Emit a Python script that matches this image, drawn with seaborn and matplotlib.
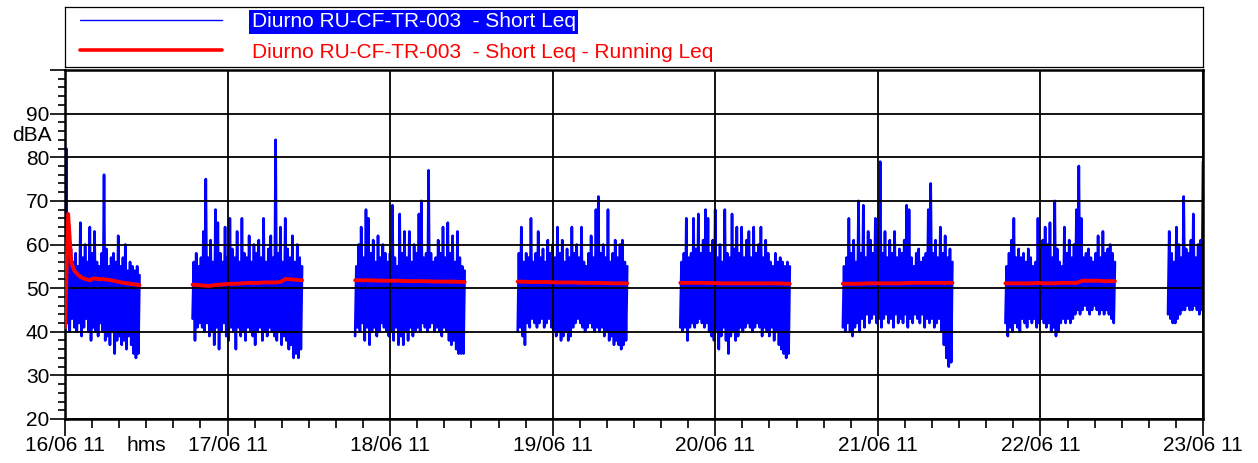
import numpy as np
import pandas as pd
import matplotlib
matplotlib.use("Agg")
import matplotlib.pyplot as plt
import matplotlib.dates as mdates
from matplotlib.ticker import MultipleLocator, FuncFormatter
import seaborn as sns

# Daytime measurement periods at station RU-CF-TR-003
period_start = ["2011-06-16 00:00", "2011-06-16 18:50", "2011-06-17 18:50", "2011-06-18 18:50",
                "2011-06-19 18:50", "2011-06-20 18:50", "2011-06-21 18:50", "2011-06-22 18:50"]
period_end = ["2011-06-16 11:00", "2011-06-17 11:00", "2011-06-18 11:00", "2011-06-19 11:00",
              "2011-06-20 11:00", "2011-06-21 11:00", "2011-06-22 11:00", "2011-06-23 00:00"]

# Short Leq (dBA): successive local maxima and minima within each period
p1_peaks = [82, 57, 59, 56, 58, 55, 65, 57, 60, 56, 64, 58, 63, 56, 55, 58, 76, 59, 55, 57, 58, 56,
            62, 55, 57, 60, 54, 56, 55, 54, 55, 53]
p1_dips = [41, 42, 40, 43, 41, 40, 42, 39, 41, 43, 40, 38, 41, 40, 39, 42, 40, 38, 39, 37, 40, 35,
           38, 39, 37, 38, 36, 39, 37, 35, 34, 35]
p2_peaks = [56, 58, 55, 57, 63, 75, 57, 61, 56, 68, 65, 58, 56, 64, 57, 66, 59, 57, 63, 56, 66, 58,
            57, 62, 56, 60, 58, 61, 57, 66, 56, 59, 62, 57, 84, 58, 64, 56, 66, 59, 57, 62, 56, 60, 57, 55]
p2_dips = [43, 38, 41, 42, 41, 40, 42, 39, 40, 37, 41, 36, 40, 42, 39, 38, 41, 40, 36, 41, 39, 40,
           38, 41, 40, 39, 37, 40, 41, 38, 40, 39, 41, 40, 39, 38, 40, 37, 39, 38, 36, 37, 34, 35, 34, 36]
p3_peaks = [55, 60, 64, 57, 68, 66, 58, 61, 56, 62, 57, 60, 58, 56, 58, 69, 57, 55, 67, 58, 63, 57,
            63, 56, 60, 58, 67, 70, 57, 58, 77, 58, 56, 57, 61, 58, 64, 57, 65, 58, 62, 56, 63, 57, 55, 54]
p3_dips = [39, 41, 40, 42, 38, 41, 37, 40, 41, 39, 40, 42, 41, 40, 39, 40, 38, 41, 37, 39, 37, 40,
           38, 41, 39, 40, 41, 40, 42, 41, 40, 41, 42, 40, 41, 40, 39, 41, 40, 38, 37, 38, 36, 35, 35, 35]
p4_peaks = [58, 64, 56, 58, 57, 66, 56, 58, 63, 57, 59, 56, 61, 58, 60, 57, 64, 58, 61, 56, 59, 57,
            64, 58, 60, 57, 64, 56, 55, 58, 62, 57, 68, 71, 58, 60, 57, 68, 56, 58, 61, 57, 60, 61, 56, 55]
p4_dips = [40, 41, 39, 37, 42, 41, 43, 42, 41, 42, 43, 41, 42, 43, 41, 40, 39, 40, 38, 39, 40, 38,
           39, 41, 42, 43, 42, 41, 40, 41, 42, 41, 40, 41, 40, 41, 39, 40, 38, 39, 37, 38, 37, 36, 37, 38]
p5_peaks = [56, 58, 66, 57, 58, 66, 59, 67, 58, 61, 68, 66, 58, 61, 68, 57, 60, 56, 68, 58, 57, 67,
            59, 64, 58, 64, 57, 61, 63, 57, 64, 58, 60, 64, 57, 61, 58, 56, 55, 58, 56, 57, 56, 55, 56, 55]
p5_dips = [41, 40, 41, 38, 41, 42, 41, 42, 43, 42, 41, 42, 40, 39, 38, 40, 36, 39, 41, 38, 35, 39,
           40, 38, 39, 41, 40, 41, 42, 41, 40, 41, 42, 41, 39, 41, 40, 39, 41, 38, 40, 37, 36, 35, 34, 35]
p6_peaks = [55, 57, 66, 58, 61, 56, 70, 58, 69, 57, 63, 61, 58, 66, 63, 79, 58, 63, 57, 61, 58, 63,
            57, 59, 58, 61, 69, 68, 57, 55, 58, 59, 56, 57, 58, 68, 74, 58, 61, 57, 64, 58, 62, 57, 59, 56]
p6_dips = [41, 40, 42, 40, 39, 41, 42, 40, 43, 41, 44, 42, 43, 44, 42, 43, 41, 43, 44, 42, 43, 41,
           44, 42, 43, 42, 44, 41, 43, 42, 44, 43, 42, 44, 41, 43, 42, 43, 41, 42, 43, 40, 37, 34, 32, 33]
p7_peaks = [55, 58, 61, 66, 57, 59, 57, 58, 56, 59, 57, 55, 56, 66, 59, 61, 64, 60, 65, 57, 70, 59,
            56, 55, 64, 58, 61, 57, 60, 68, 78, 66, 57, 58, 59, 57, 56, 58, 62, 57, 63, 58, 59, 60, 58, 56]
p7_dips = [42, 39, 41, 40, 42, 41, 40, 43, 42, 41, 43, 42, 43, 41, 42, 43, 42, 41, 42, 40, 41, 39,
           40, 42, 43, 42, 43, 42, 43, 44, 45, 44, 45, 46, 45, 44, 45, 46, 45, 44, 45, 44, 45, 44, 43, 42]
p8_peaks = [63, 58, 56, 64, 60, 57, 71, 59, 58, 61, 67, 57, 60, 61, 79]
p8_dips = [44, 43, 42, 42, 43, 44, 45, 45, 46, 45, 45, 46, 45, 44, 45]

# Running Leq (dBA) within each period
run1 = [41, 67, 56, 54.0, 53.2, 52.6, 52.2, 52.0, 51.8, 52.2, 52.2, 52.0, 52.1, 52.0, 51.9, 51.8,
        51.6, 51.5, 51.3, 51.2, 51.1, 51.0, 50.9, 50.8, 50.7]
run2 = [50.8, 50.7, 50.6, 50.5, 50.7, 50.8, 50.9, 51.0, 51.0, 51.1, 51.2, 51.2, 51.2, 51.3, 51.3,
        51.3, 51.4, 52.1, 52.0, 51.9, 51.8]
run3 = [51.8, 51.8, 51.7, 51.7, 51.6, 51.6, 51.5, 51.5, 51.4]
run4 = [51.5, 51.4, 51.4, 51.3, 51.3, 51.2, 51.2, 51.1, 51.1]
run5 = [51.2, 51.2, 51.2, 51.1, 51.1, 51.1, 51.1, 51.1, 51.0]
run6 = [51.0, 51.0, 51.1, 51.1, 51.1, 51.2, 51.2, 51.2, 51.2]
run7 = [51.1, 51.1, 51.1, 51.1, 51.1, 51.1, 51.2, 51.1, 51.1, 51.1, 51.2, 51.2, 51.2, 51.2, 51.7,
        51.7, 51.7, 51.7, 51.6, 51.6, 51.6]

short_peaks = [p1_peaks, p2_peaks, p3_peaks, p4_peaks, p5_peaks, p6_peaks, p7_peaks, p8_peaks]
short_dips = [p1_dips, p2_dips, p3_dips, p4_dips, p5_dips, p6_dips, p7_dips, p8_dips]
running = [run1, run2, run3, run4, run5, run6, run7]

label_short = "Diurno RU-CF-TR-003  - Short Leq"
label_running = "Diurno RU-CF-TR-003  - Short Leq - Running Leq"

# Tidy tables, one unit per measurement period
frames = []
for k, (t0, t1, hi, lo) in enumerate(zip(period_start, period_end, short_peaks, short_dips)):
    levels = np.column_stack([lo, hi]).ravel()
    times = pd.date_range(t0, t1, periods=len(levels))
    frames.append(pd.DataFrame({"time": times, "level": levels, "period": k}))
short_df = pd.concat(frames, ignore_index=True)

frames = []
for k, vals in enumerate(running):
    times = pd.date_range(period_start[k], period_end[k], periods=len(vals))
    frames.append(pd.DataFrame({"time": times, "level": vals, "period": k}))
running_df = pd.concat(frames, ignore_index=True)

sns.set_theme(style="ticks")
plt.rcParams["font.family"] = ["Liberation Sans", "DejaVu Sans"]

W, H = 1258, 463
fig = plt.figure(figsize=(W / 100, H / 100), dpi=100)
ax = fig.add_axes([65 / W, 44 / H, 1138 / W, 349 / H])

sns.lineplot(data=short_df, x="time", y="level", units="period", estimator=None, sort=False,
             color="#0000ff", lw=1.9, ax=ax)
n_short = len(ax.lines)
sns.lineplot(data=running_df, x="time", y="level", units="period", estimator=None, sort=False,
             color="#ff0000", lw=2.8, ax=ax, zorder=3)
h_short = ax.lines[0]
h_running = ax.lines[n_short]

ax.set_xlim(pd.Timestamp("2011-06-16 00:00"), pd.Timestamp("2011-06-23 00:00"))
ax.set_ylim(20, 100)
ax.set_xlabel("")
ax.set_ylabel("")

ax.xaxis.set_major_locator(mdates.DayLocator())
ax.xaxis.set_major_formatter(mdates.DateFormatter("%d/%m %y"))
ax.xaxis.set_minor_locator(mdates.HourLocator(byhour=[4, 8, 12, 16, 20]))
hms_pos = mdates.date2num(pd.Timestamp("2011-06-16 12:00"))
ax.xaxis.set_minor_formatter(FuncFormatter(lambda v, p: "hms" if abs(v - hms_pos) < 1e-3 else ""))

ax.yaxis.set_major_locator(MultipleLocator(10))
ax.yaxis.set_minor_locator(MultipleLocator(2))
ax.yaxis.set_major_formatter(FuncFormatter(lambda v, p: "" if v >= 100 else f"{v:.0f}"))

ax.tick_params(axis="both", which="both", direction="out", color="black", width=1.2,
               labelsize=15, labelcolor="black", bottom=True, left=True)
ax.tick_params(axis="y", which="major", length=10.8, pad=0.5)
ax.tick_params(axis="y", which="minor", length=5)
ax.tick_params(axis="x", which="major", length=12, pad=0.5)
ax.tick_params(axis="x", which="minor", length=6.5, pad=6)

ax.set_axisbelow(False)
ax.grid(True, which="major", color="black", lw=1.3)
for s in ax.spines.values():
    s.set_color("black")
    s.set_linewidth(1.8)

ax.annotate("dBA", xy=(0, 85), xycoords=("axes fraction", "data"), xytext=(-13, 0),
            textcoords="offset pixels", ha="right", va="center", fontsize=15, color="black")

# Legend panel above the plot
ax_leg = fig.add_axes([65 / W, 1 - 67 / H, 1138 / W, 60 / H])
ax_leg.set_xticks([])
ax_leg.set_yticks([])
for s in ax_leg.spines.values():
    s.set_color("black")
    s.set_linewidth(0.9)
leg = ax_leg.legend([h_short, h_running], [label_short, label_running], loc="center left",
                    bbox_to_anchor=(0, 0.5), borderaxespad=0, borderpad=0.72, frameon=False,
                    handlelength=6.8, handletextpad=1.44, labelspacing=0.54, fontsize=15)
leg.get_lines()[0].set_linewidth(1.0)
leg.get_lines()[1].set_linewidth(2.6)
t0, t1 = leg.get_texts()
t0.set_color("white")
t0.set_bbox(dict(facecolor="#0000ff", edgecolor="none", pad=2))
t1.set_color("#ff0000")

fig.savefig("out.png", dpi=100)
